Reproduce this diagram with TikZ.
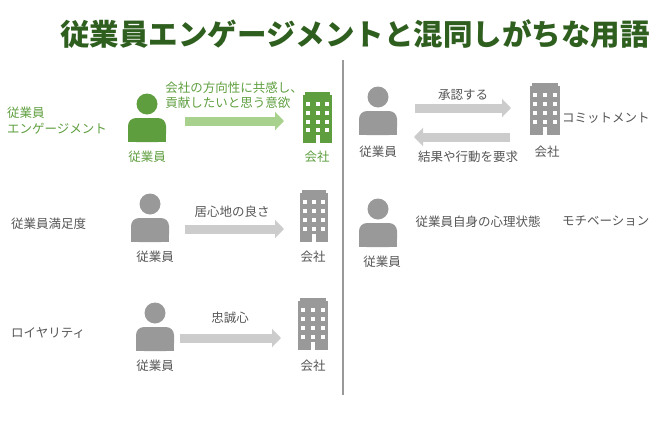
\documentclass[tikz,border=0pt]{standalone}
\usepackage{fontspec}
\setmainfont{Noto Sans CJK JP}
\usetikzlibrary{arrows.meta}
\definecolor{gr}{HTML}{5E9E3E}
\definecolor{dg}{HTML}{2F5F1F}
\definecolor{lg}{HTML}{A9D18E}
\definecolor{ic}{HTML}{999999}
\definecolor{la}{HTML}{CCCCCC}
\definecolor{tx}{HTML}{555555}
\tikzset{
 lbl/.style={font=\fontsize{12.5}{15}\selectfont, text=tx, inner sep=1pt},
 big/.style={font=\fontsize{12.5}{16}\selectfont, text=tx, inner sep=1pt, align=left},
 fat/.style={-{Triangle[length=9pt,width=18pt]}, line width=9pt, draw=la},
}
\newcommand{\person}[4]{% x, headY, color, name
 \fill[#3] (#1,#2) circle (10.5);
 \fill[#3, rounded corners=8pt] (#1-19,#2+38) rectangle (#1+19,#2+14);
 \fill[#3] (#1-19,#2+38) rectangle (#1+19,#2+28);
 \coordinate (#4) at (#1,#2+38);
}
\newcommand{\bldg}[5]{% x0,y0,x1,y1,color
 \fill[#5] (#1,#2+3) rectangle (#3,#4);
 \fill[#5] (#1+2,#2) rectangle (#3-2,#2+3);
 \foreach \r in {0,1,2,3}{\foreach \c in {0,1,2}{
   \fill[white] ({#1+5+\c*(#3-#1-10)/2-2},{#2+10+\r*(#4-#2-16)/4}) rectangle ++(4,4);}}
 \fill[white] ({(#1+#3)/2-2},{#4-8}) rectangle ({(#1+#3)/2+2},#4);
}
\begin{document}
\begin{tikzpicture}[x=1pt,y=-1pt]
\useasboundingbox (0,0) rectangle (670,426);
\node[font=\fontsize{29.5}{32}\selectfont\bfseries, text=dg] (title) at (355,34) {従業員エンゲージメントと混同しがちな用語};
\draw[ic, line width=1.2pt] (343,60) -- (343,395);
% row1
\node[big, text=gr, anchor=west] (l1) at (6,121) {従業員\\エンゲージメント};
\person{147}{104}{gr}{p1}
\node[lbl, text=gr] (p1t) at (147,157) {従業員};
\coordinate (a1s) at (185,121); \coordinate (a1e) at (284,121);
\draw[fat, draw=lg] (a1s) -- (a1e);
\node[lbl, text=gr, align=left] (t1) at (234,95) {会社の方向性に共感し、\\貢献したいと思う意欲};
\bldg{303}{92}{332}{143}{gr}
\node[lbl, text=gr] (b1t) at (317,157) {会社};
% row2
\node[big, anchor=west] (l2) at (10,224) {従業員満足度};
\person{150}{204}{ic}{p2}
\node[lbl] (p2t) at (155,257) {従業員};
\coordinate (a2s) at (185,229); \coordinate (a2e) at (284,229);
\draw[fat] (a2s) -- (a2e);
\node[lbl] (t2) at (232,212) {居心地の良さ};
\bldg{300}{190}{328}{242}{ic}
\node[lbl] (b2t) at (313,257) {会社};
% row3
\node[big, anchor=west] (l3) at (10,333) {ロイヤリティ};
\person{155}{313}{ic}{p3}
\node[lbl] (p3t) at (155,366) {従業員};
\coordinate (a3s) at (180,338); \coordinate (a3e) at (281,338);
\draw[fat] (a3s) -- (a3e);
\node[lbl] (t3) at (230,318) {忠誠心};
\bldg{298}{298}{328}{350}{ic}
\node[lbl] (b3t) at (313,366) {会社};
% right top
\person{378}{97}{ic}{p4}
\node[lbl] (p4t) at (378,152) {従業員};
\coordinate (a4s) at (415,108); \coordinate (a4e) at (511,108);
\draw[fat] (a4s) -- (a4e);
\node[lbl] (t4) at (463,95) {承認する};
\coordinate (a5s) at (510,137); \coordinate (a5e) at (414,137);
\draw[fat] (a5s) -- (a5e);
\node[lbl] (t5) at (468,157) {結果や行動を要求};
\bldg{530}{83}{560}{135}{ic}
\node[lbl] (b4t) at (547,152) {会社};
\node[big, anchor=west] (l4) at (561,118) {コミットメント};
% right middle
\person{378}{209}{ic}{p5}
\node[lbl] (p5t) at (382,262) {従業員};
\node[lbl] (t6) at (478,222) {従業員自身の心理状態};
\node[big, anchor=west] (l5) at (561,221) {モチベーション};
\end{tikzpicture}
\end{document}
